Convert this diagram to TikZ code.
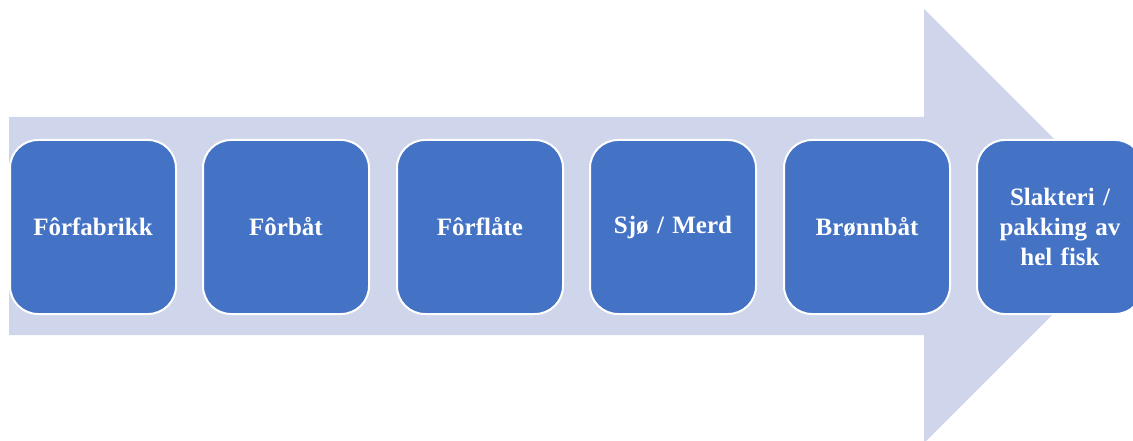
\documentclass[tikz,border=0pt]{standalone}
\usepackage{fontspec}
\setmainfont{Liberation Serif}
\definecolor{flowbg}{HTML}{CFD5EA}
\definecolor{stepblue}{HTML}{4472C4}
\begin{document}
\begin{tikzpicture}[x=1pt,y=-1pt,
  stage/.style={draw=white, line width=2pt, fill=stepblue, rounded corners=28pt,
    minimum width=166pt, minimum height=174pt, inner sep=0pt, anchor=north west,
    align=center, text width=150pt, text=white,
    font=\fontsize{25pt}{30pt}\selectfont\bfseries}]
  \useasboundingbox (0,0) rectangle (1133,441);
  \clip (0,0) rectangle (1133,441);
  % broad background arrow
  \fill[flowbg] (9,117) -- (924,117) -- (924,9) -- (1141,226) -- (924,443)
    -- (924,335) -- (9,335) -- cycle;
  % process stages
  \node[stage] (s1) at (9,139)   {Fôrfabrikk};
  \node[stage] (s2) at (202,139) {Fôrbåt};
  \node[stage] (s3) at (396,139) {Fôrflåte};
  \node[stage] (s4) at (589,139) {Sjø / Merd};
  \node[stage] (s5) at (783,139) {Brønnbåt};
  \node[stage] (s6) at (976,139) {Slakteri /\\pakking av\\hel fisk};
\end{tikzpicture}
\end{document}
